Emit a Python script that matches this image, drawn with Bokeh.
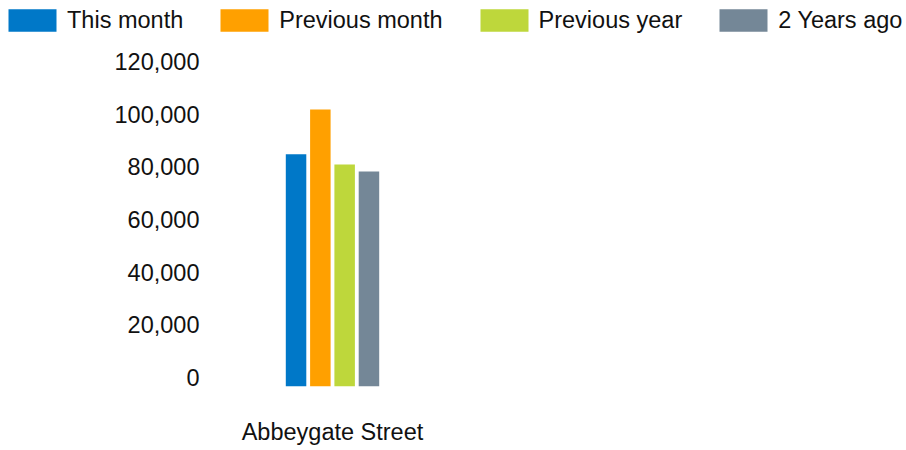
from bokeh.plotting import figure
from bokeh.models import (Range1d, FixedTicker, Legend, LegendItem, LinearAxis,
                          NumeralTickFormatter, ColumnDataSource)
from bokeh.embed import file_html
from bokeh.resources import INLINE

# ---- data ----
categories = ["Abbeygate Street"]
series_names = ["This month", "Previous month", "Previous year", "2 Years ago"]
this_month = [88300]
previous_month = [105300]
previous_year = [84400]
two_years_ago = [81700]
y_ticks = [0, 20000, 40000, 60000, 80000, 100000, 120000]

series_values = [this_month, previous_month, previous_year, two_years_ago]
colors = ["#0078c8", "#ffa000", "#bed73b", "#748797"]

# ---- layout constants ----
W = 906
LEG_H, MAIN_H = 40, 410
LEFT, RIGHT, TOP, BOTTOM = 208, 0, 21, 64
Y_END = 123500
LABEL_SHIFT = 3420   # tick labels sit on their value line (baseline), not centred
SLOT = 248
STEP = 24.3
BAR_W = 20.5
FONT = "Liberation Sans"
FS = "23.5px"

def clean(fig):
    fig.outline_line_color = None
    fig.background_fill_color = "white"
    fig.border_fill_color = "white"
    fig.xgrid.visible = False
    fig.ygrid.visible = False

# main chart
p = figure(width=W, height=MAIN_H, output_backend="svg", toolbar_location=None,
           x_range=Range1d(-124, W - LEFT - RIGHT - 124),
           y_range=Range1d(0, Y_END), y_axis_location=None,
           min_border_left=LEFT, min_border_right=RIGHT,
           min_border_top=TOP, min_border_bottom=BOTTOM)
clean(p)
p.extra_y_ranges = {"labels": Range1d(-LABEL_SHIFT, Y_END - LABEL_SHIFT)}

# legend strip
pl = figure(width=W, height=LEG_H, output_backend="svg", toolbar_location=None,
            x_range=Range1d(-1000, -999), y_range=Range1d(0, 1),
            x_axis_location=None, y_axis_location=None,
            min_border_left=0, min_border_right=0,
            min_border_top=0, min_border_bottom=0)
clean(pl)

items = []
n = len(series_names)
for j, (name, vals, col) in enumerate(zip(series_names, series_values, colors)):
    xs = [i * SLOT + (j - (n - 1) / 2) * STEP for i in range(len(categories))]
    src = ColumnDataSource(dict(x=xs, top=vals, cat=categories))
    p.vbar(x="x", top="top", bottom=0, width=BAR_W, source=src,
           fill_color=col, line_color=None)
    rl = pl.vbar(x="x", top="top", bottom=0, width=BAR_W, source=src,
                 fill_color=col, line_color=None, visible=False)
    items.append(LegendItem(label=name, renderers=[rl]))

# y axis
ya = LinearAxis(y_range_name="labels")
ya.ticker = FixedTicker(ticks=y_ticks)
ya.formatter = NumeralTickFormatter(format="0,0")
ya.axis_line_color = None
ya.major_tick_line_color = None
ya.minor_tick_line_color = None
ya.major_tick_out = 0
ya.major_tick_in = 0
ya.major_label_standoff = 9
ya.major_label_text_font = FONT
ya.major_label_text_font_size = FS
ya.major_label_text_color = "#111111"
p.add_layout(ya, "left")

# x axis
xa = p.xaxis[0]
xa.ticker = FixedTicker(ticks=[i * SLOT for i in range(len(categories))])
xa.major_label_overrides = {i * SLOT: c for i, c in enumerate(categories)}
xa.axis_line_color = None
xa.major_tick_line_color = None
xa.minor_tick_line_color = None
xa.major_tick_out = 0
xa.major_tick_in = 0
xa.major_label_standoff = 32
xa.major_label_text_font = FONT
xa.major_label_text_font_size = FS
xa.major_label_text_color = "#111111"

# legend glyph box is inset 10% on each side when drawn
legend = Legend(items=items, orientation="horizontal", location=(2, LEG_H - 6 - 28),
                padding=0, margin=0, spacing=31,
                glyph_width=60, glyph_height=28, label_standoff=5,
                border_line_color=None, background_fill_alpha=0,
                label_text_font=FONT, label_text_font_size=FS,
                label_text_color="#111111")
pl.add_layout(legend, "center")

open("out.html", "w").write(file_html((pl, p), INLINE))
